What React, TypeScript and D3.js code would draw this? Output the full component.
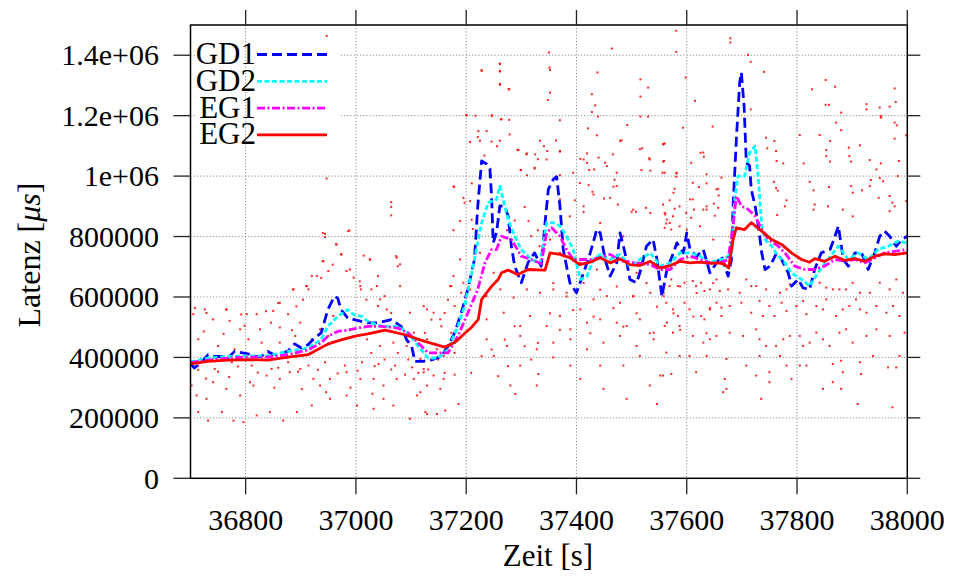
import React from 'react';
import * as d3 from 'd3';

// latency in thousands of microseconds, time in seconds
const xTicks = [36800, 37000, 37200, 37400, 37600, 37800, 38000];
const yTicks = [0, 200, 400, 600, 800, 1000, 1200, 1400];
const yTickLabels = ['0', '200000', '400000', '600000', '800000', '1e+06', '1.2e+06', '1.4e+06'];

const seriesNames = ['GD1', 'GD2', 'EG1', 'EG2'];
const seriesColors = ['#0000ff', '#00ffff', '#ff00ff', '#ff0000'];
const seriesDash = ['10,5', '5,2.5', '8,2.5,2,2.5', 'none'];

const gd1: [number, number][] = [
  [36700, 379], [36707, 365], [36720, 384], [36732, 409], [36744, 403], [36756, 403], [36768, 398], [36780, 420],
  [36792, 416], [36804, 412], [36816, 403], [36828, 403], [36840, 420], [36852, 409], [36864, 414], [36876, 420],
  [36889, 445], [36901, 431], [36913, 442], [36925, 464], [36937, 481], [36949, 558], [36961, 602], [36967, 596],
  [36973, 558], [36985, 531], [36997, 525], [37010, 519], [37022, 514], [37040, 514], [37064, 525], [37082, 503],
  [37092, 459], [37101, 437], [37107, 387], [37122, 387], [37137, 392], [37155, 403], [37167, 437], [37179, 481],
  [37191, 547], [37203, 625], [37215, 724], [37221, 901], [37228, 1050], [37237, 1040], [37243, 1025], [37246, 934],
  [37249, 779], [37255, 812], [37261, 901], [37270, 900], [37276, 868], [37282, 768], [37288, 702], [37300, 647],
  [37312, 713], [37324, 746], [37336, 702], [37343, 846], [37349, 956], [37358, 989], [37364, 998], [37370, 901],
  [37376, 757], [37388, 647], [37400, 614], [37413, 680], [37425, 746], [37437, 824], [37443, 812], [37452, 724],
  [37461, 669], [37473, 713], [37479, 812], [37488, 746], [37497, 658], [37509, 647], [37515, 680], [37527, 768],
  [37539, 790], [37546, 724], [37555, 602], [37564, 691], [37576, 746], [37582, 779], [37594, 746], [37600, 812],
  [37606, 757], [37618, 735], [37630, 757], [37642, 680], [37654, 713], [37663, 735], [37675, 669], [37681, 724],
  [37684, 901], [37690, 1122], [37696, 1310], [37699, 1343], [37704, 1232], [37708, 1045], [37714, 1034], [37717, 956],
  [37724, 901], [37730, 835], [37736, 746], [37742, 691], [37751, 702], [37763, 746], [37772, 724], [37784, 680],
  [37790, 636], [37802, 658], [37811, 630], [37823, 625], [37832, 691], [37844, 746], [37860, 757], [37869, 801],
  [37875, 835], [37884, 724], [37893, 702], [37905, 746], [37917, 746], [37929, 691], [37941, 746], [37950, 801],
  [37959, 818], [37968, 801], [37980, 768], [37990, 790], [38000, 801]
];

const gd2: [number, number][] = [
  [36700, 385], [36732, 398], [36768, 403], [36804, 405], [36840, 405], [36877, 420], [36913, 431], [36937, 459],
  [36949, 503], [36967, 536], [36985, 558], [36997, 541], [37010, 536], [37022, 519], [37046, 503], [37076, 503],
  [37095, 481], [37113, 437], [37131, 398], [37149, 398], [37167, 426], [37185, 503], [37197, 569], [37215, 724],
  [37228, 846], [37240, 912], [37255, 923], [37261, 967], [37267, 923], [37276, 857], [37288, 801], [37300, 757],
  [37318, 724], [37334, 713], [37346, 846], [37358, 846], [37370, 835], [37382, 801], [37394, 757], [37407, 658],
  [37419, 669], [37431, 724], [37443, 741], [37461, 724], [37479, 741], [37497, 702], [37515, 724], [37534, 746],
  [37552, 702], [37570, 713], [37588, 746], [37606, 746], [37624, 735], [37642, 713], [37660, 724], [37669, 724],
  [37681, 746], [37687, 923], [37693, 1000], [37705, 1000], [37714, 1078], [37724, 1100], [37730, 989], [37736, 835],
  [37742, 790], [37754, 768], [37766, 735], [37778, 713], [37790, 680], [37808, 658], [37823, 636], [37838, 680],
  [37856, 724], [37875, 768], [37893, 724], [37911, 746], [37929, 724], [37947, 757], [37965, 768], [37983, 784],
  [38000, 779]
];

const eg1: [number, number][] = [
  [36700, 383], [36732, 391], [36768, 398], [36804, 401], [36840, 401], [36877, 409], [36913, 425], [36937, 448],
  [36949, 470], [36967, 486], [36985, 490], [37003, 497], [37022, 503], [37046, 503], [37076, 497], [37095, 481],
  [37113, 448], [37131, 415], [37149, 415], [37167, 415], [37185, 470], [37203, 547], [37221, 625], [37234, 713],
  [37246, 757], [37255, 757], [37264, 801], [37282, 790], [37300, 735], [37318, 724], [37336, 710], [37346, 812],
  [37355, 829], [37370, 801], [37382, 757], [37394, 724], [37425, 724], [37443, 730], [37461, 741], [37480, 720],
  [37500, 715], [37534, 707], [37552, 691], [37570, 691], [37588, 724], [37606, 735], [37624, 724], [37642, 713],
  [37660, 713], [37675, 724], [37684, 835], [37690, 934], [37699, 901], [37711, 890], [37724, 868], [37736, 824],
  [37748, 790], [37766, 768], [37778, 746], [37796, 702], [37814, 691], [37832, 691], [37850, 702], [37869, 724],
  [37887, 718], [37905, 724], [37923, 713], [37941, 729], [37959, 746], [37977, 751], [38000, 757]
];

const eg2: [number, number][] = [
  [36700, 379], [36732, 387], [36768, 391], [36804, 393], [36840, 391], [36877, 401], [36913, 409], [36949, 444],
  [36967, 455], [36985, 464], [37003, 472], [37022, 478], [37053, 490], [37089, 475], [37125, 453], [37161, 434],
  [37180, 450], [37198, 481], [37210, 500], [37222, 526], [37228, 592], [37237, 614], [37246, 635], [37258, 658],
  [37264, 680], [37276, 689], [37294, 674], [37312, 691], [37343, 689], [37352, 746], [37370, 741], [37388, 730],
  [37406, 707], [37425, 715], [37443, 730], [37461, 713], [37479, 726], [37497, 707], [37515, 704], [37534, 718],
  [37552, 696], [37570, 704], [37588, 718], [37606, 713], [37624, 715], [37642, 711], [37660, 713], [37669, 707],
  [37676, 696], [37684, 790], [37690, 829], [37705, 823], [37717, 846], [37736, 818], [37754, 790], [37772, 774],
  [37790, 746], [37808, 724], [37823, 715], [37832, 727], [37850, 718], [37869, 735], [37887, 721], [37905, 727],
  [37923, 718], [37941, 735], [37959, 743], [37977, 740], [38000, 746]
];

// raw single measurements (red dots)
const samples: [number, number][] = [
  [36965, 774], [36974, 741], [36941, 719], [36950, 686], [37014, 737], [37026, 724], [36911, 636], [36914, 625],
  [36920, 669], [36929, 669], [36887, 625], [36862, 581], [36877, 543], [36850, 554], [36820, 543], [36802, 543],
  [36765, 559], [36726, 559], [36705, 543], [36741, 526], [36771, 521], [36790, 493], [36826, 493], [36862, 499],
  [36899, 515], [36935, 493], [36959, 537], [36983, 686], [36996, 664], [37008, 636], [37038, 636], [37044, 592],
  [37074, 730], [37080, 708], [37056, 559], [37080, 636], [37098, 548], [37129, 559], [37105, 482], [37123, 351],
  [37117, 285], [37098, 197], [37129, 213], [37050, 263], [37068, 241], [37032, 230], [37002, 241], [36983, 274],
  [36953, 263], [36935, 307], [36920, 241], [36893, 219], [36868, 191], [36844, 219], [36820, 208], [36796, 186],
  [36778, 191], [36757, 219], [36732, 191], [36714, 219], [36702, 307], [36711, 274], [36729, 263], [36741, 318],
  [36765, 296], [36790, 274], [36814, 307], [36838, 340], [36862, 329], [36880, 351], [36899, 362], [36923, 329],
  [36953, 329], [36983, 351], [37008, 329], [37032, 329], [37050, 307], [37074, 329], [37105, 329], [37111, 274],
  [36714, 460], [36750, 438], [36780, 427], [36805, 460], [36829, 449], [36862, 449], [36890, 471], [36920, 460],
  [36950, 471], [36974, 460], [36996, 471], [37020, 460], [37044, 438], [37068, 449], [37092, 438], [37117, 395],
  [36714, 373], [36744, 362], [36775, 384], [36811, 373], [36847, 362], [36877, 384], [36914, 373], [36944, 384],
  [36980, 373], [37011, 384], [37041, 378], [37071, 373], [37102, 367],
  [36964, 774], [36973, 741], [36940, 718], [36958, 707], [36989, 691], [36937, 663], [36910, 636], [36886, 625],
  [37007, 652], [37009, 625], [36859, 580], [36892, 569], [36904, 591], [36765, 558], [36708, 564], [36729, 547],
  [36792, 542], [36837, 553], [36714, 359], [36750, 353], [36786, 370], [36822, 350], [36859, 366], [36895, 353],
  [36931, 359], [36967, 347], [37003, 356], [36724, 486], [36760, 478], [36798, 505], [36846, 515], [36884, 490],
  [36728, 330], [36770, 335], [36808, 318], [36852, 300], [36902, 295], [36946, 285], [36990, 300], [37030, 280],
  [36947, 1464], [36947, 992], [37064, 914], [37064, 898], [37064, 870], [36988, 820], [36944, 809], [36944, 798],
  [36940, 812], [36986, 818],
  [37025, 724], [37040, 669], [37073, 735], [37076, 702], [37028, 625], [37052, 603], [37019, 591], [37040, 570],
  [37064, 547], [37028, 503], [37173, 636], [37167, 591], [37191, 614], [37179, 570], [37161, 547], [37155, 503],
  [37173, 481], [37137, 525], [37125, 481], [37179, 415], [37149, 393], [37131, 360], [37161, 349], [37095, 393],
  [37076, 415], [37052, 393], [37028, 415], [37034, 371], [37064, 360], [37089, 343], [37113, 349], [37179, 343],
  [37209, 349], [37228, 404], [37246, 426], [37270, 459], [37288, 503], [37306, 437], [37318, 393], [37330, 448],
  [37276, 371], [37258, 338], [37261, 1371], [37228, 1349], [37261, 1346], [37261, 1305], [37277, 1288], [37264, 1188],
  [37246, 1201], [37200, 1201], [37237, 1149], [37225, 1117], [37261, 1117], [37293, 1087], [37309, 1072], [37178, 965],
  [37197, 912], [37330, 1056], [37324, 1028], [37299, 1020],
  [37123, 570], [37141, 548], [37153, 526], [37129, 460], [37147, 427], [37159, 405], [37123, 362], [37141, 340],
  [37159, 329], [37129, 307], [37153, 296], [37126, 219], [37147, 213], [37162, 224], [37186, 246], [37177, 669],
  [37195, 647], [37207, 625], [37189, 724], [37171, 636], [37237, 603], [37262, 625], [37286, 598], [37310, 625],
  [37334, 614], [37358, 625], [37382, 614], [37407, 559], [37431, 592], [37455, 603], [37479, 581], [37503, 603],
  [37534, 614], [37558, 603], [37237, 526], [37268, 548], [37298, 504], [37316, 537], [37346, 504], [37370, 537],
  [37389, 493], [37419, 515], [37443, 526], [37473, 515], [37491, 504], [37515, 526], [37540, 482], [37564, 515],
  [37237, 460], [37274, 438], [37298, 471], [37328, 427], [37358, 449], [37389, 460], [37419, 427], [37449, 449],
  [37479, 471], [37509, 438], [37540, 460], [37250, 405], [37298, 373], [37331, 345], [37358, 400], [37389, 373],
  [37407, 329], [37443, 373], [37485, 373], [37515, 405], [37552, 340], [37280, 307], [37289, 279], [37328, 307],
  [37449, 296], [37491, 263], [37533, 307], [37546, 246], [37225, 746], [37250, 680], [37286, 724], [37370, 746],
  [37407, 713], [37437, 691], [37485, 724], [37509, 680],
  [37334, 1117], [37370, 1083], [37479, 1117], [37558, 1106], [37630, 1078], [37582, 1011], [37394, 1011], [37413, 1055],
  [37440, 1061], [37455, 1033], [37515, 1089], [37533, 1055], [37346, 1055], [37473, 967], [37431, 939], [37370, 923],
  [37413, 900], [37576, 945], [37606, 923], [37636, 900], [37654, 956], [37503, 889], [37534, 878], [37564, 856],
  [37600, 823], [37624, 834], [37648, 790], [37485, 801], [37443, 845], [37388, 867], [37352, 790], [37358, 646],
  [37382, 602], [37413, 646], [37443, 624], [37473, 635], [37503, 602], [37527, 646], [37558, 613], [37588, 635],
  [37618, 613], [37648, 646], [37352, 546], [37394, 557], [37431, 535], [37467, 563], [37509, 546], [37546, 568],
  [37576, 546], [37612, 535], [37642, 563], [37370, 491], [37425, 480], [37485, 502], [37533, 480], [37588, 491],
  [37636, 480],
  [37350, 1409], [37464, 1422], [37228, 1350], [37261, 1372], [37261, 1348], [37261, 1302], [37278, 1287], [37351, 1359],
  [37352, 1351], [37352, 1276], [37348, 1252], [37438, 1343], [37516, 1320], [37530, 1293], [37516, 1263], [37428, 1271],
  [37434, 1234], [37428, 1212], [37201, 1202], [37217, 1200], [37247, 1200], [37263, 1188], [37278, 1186], [37370, 1185],
  [37439, 1197], [37516, 1197], [37530, 1197], [37492, 1169], [37421, 1158], [37222, 1149], [37221, 1129], [37279, 1138],
  [37437, 1135], [37363, 1118], [37207, 1113], [37246, 1114], [37256, 1099], [37482, 1118], [37519, 1092], [37341, 1099],
  [37347, 1083], [37370, 1081], [37295, 1086], [37310, 1075], [37325, 1072], [37233, 1068], [37419, 1075], [37466, 1072],
  [37532, 1059], [37559, 1050], [37560, 1108], [37419, 1044], [37432, 1022], [37452, 1044], [37299, 1020], [37310, 1003],
  [37324, 1025], [37245, 1002], [37370, 1003], [37423, 1020], [37407, 1057], [37518, 1020], [37534, 1018], [37560, 1011],
  [37473, 1011], [37177, 965], [37195, 928], [37210, 976], [37406, 977], [37422, 970], [37429, 948], [37397, 920],
  [37413, 881], [37450, 926], [37461, 928], [37469, 988], [37467, 965], [37475, 906], [37500, 882], [37508, 882],
  [37526, 895], [37560, 878], [37560, 829], [37563, 843], [37189, 851], [37177, 821], [37207, 917], [37210, 856],
  [37212, 825], [37306, 898], [37313, 851], [37330, 821], [37288, 853], [37274, 821], [37318, 801], [37333, 768],
  [37581, 1481], [37679, 1456], [37679, 1442], [37581, 1411], [37711, 1401], [37716, 1378], [37598, 1326], [37740, 1345],
  [37615, 1249], [37716, 1221], [37852, 1318], [37869, 1296], [37827, 1287], [37977, 1290], [37852, 1236], [37858, 1236],
  [37880, 1210], [37926, 1238], [37926, 1221], [37950, 1227], [37968, 1230], [37979, 1245], [37952, 1199], [37952, 1193],
  [37977, 1177], [37981, 1168], [37647, 1164], [37593, 1160], [37871, 1177], [37880, 1152], [37841, 1136], [37805, 1136],
  [37998, 1135], [37744, 1127], [37759, 1116], [37860, 1116], [37914, 1102], [37894, 1094], [37977, 1124], [37557, 1105],
  [37625, 1077], [37631, 1064], [37746, 1092], [37762, 1083], [37608, 1044], [37557, 1048], [37763, 1050], [37775, 1042],
  [37812, 1042], [37853, 1086], [37853, 1066], [37860, 1048], [37898, 1048], [37895, 1066], [37932, 1053], [37952, 1042],
  [37985, 1050], [37944, 1022], [37581, 1009], [37581, 998], [37636, 1006], [37663, 995], [37556, 1011], [37611, 978],
  [37636, 976], [37578, 958], [37622, 964], [37657, 958], [37758, 981], [37762, 961], [37765, 952], [37823, 981],
  [37830, 953], [37858, 964], [37898, 967], [37932, 967], [37934, 987], [37950, 994], [37956, 983], [37983, 1000],
  [37901, 945], [37918, 953], [37948, 928], [37968, 934], [37973, 912], [37998, 917], [37781, 920], [37778, 900],
  [37764, 871], [37611, 923], [37658, 936], [37649, 909], [37636, 889], [37613, 889], [37599, 878], [37587, 900],
  [37569, 920], [37578, 892], [37575, 867], [37569, 845], [37557, 906], [37561, 873], [37572, 823], [37587, 834],
  [37608, 862], [37630, 889], [37651, 869], [37657, 895], [37856, 900], [37830, 889], [37832, 906], [37883, 889],
  [37901, 867], [37968, 884], [37977, 900],
  [37560, 697], [37572, 658], [37569, 636], [37584, 636], [37596, 647], [37611, 653], [37617, 636], [37626, 647],
  [37632, 620], [37642, 625], [37654, 658], [37660, 620], [37675, 625], [37696, 614], [37708, 658], [37717, 636],
  [37726, 636], [37744, 625], [37769, 614], [37781, 625], [37787, 642], [37805, 647], [37823, 636], [37841, 647],
  [37853, 631], [37865, 625], [37877, 625], [37889, 625], [37901, 647], [37914, 614], [37932, 614], [37950, 647],
  [37968, 625], [37980, 658], [37992, 614], [37563, 581], [37575, 559], [37584, 537], [37596, 581], [37605, 559],
  [37626, 537], [37632, 526], [37642, 559], [37654, 581], [37663, 565], [37663, 537], [37678, 570], [37699, 581],
  [37717, 548], [37732, 587], [37738, 537], [37750, 570], [37759, 537], [37772, 581], [37781, 554], [37799, 570],
  [37811, 587], [37817, 543], [37835, 570], [37847, 559], [37853, 592], [37871, 537], [37883, 559], [37895, 570],
  [37907, 592], [37914, 559], [37926, 548], [37944, 570], [37962, 548], [37974, 570], [37986, 537], [37560, 504],
  [37575, 482], [37587, 504], [37611, 471], [37630, 449], [37642, 460], [37654, 471], [37678, 482], [37702, 471],
  [37726, 493], [37732, 460], [37744, 438], [37762, 438], [37775, 460], [37787, 471], [37805, 471], [37811, 438],
  [37823, 449], [37835, 482], [37847, 460], [37859, 438], [37877, 482], [37889, 493], [37901, 449], [37926, 471],
  [37944, 493], [37968, 471], [37995, 482], [37563, 416], [37587, 405], [37605, 405], [37636, 405], [37672, 395],
  [37708, 373], [37732, 405], [37750, 351], [37769, 405], [37781, 373], [37805, 373], [37817, 373], [37865, 378],
  [37880, 389], [37883, 351], [37914, 384], [37938, 405], [37965, 367], [37986, 405], [37572, 345], [37617, 351],
  [37669, 329], [37666, 285], [37726, 340], [37750, 318], [37790, 329], [37847, 296], [37865, 318], [37880, 296],
  [37916, 345], [37980, 367], [37672, 296], [37735, 263], [37910, 246], [37973, 235], [37557, 340]
];

const W = 954, H = 579;
const left = 190.5, right = 907.3, top = 25, bottom = 478.3;
const font = 'Liberation Serif';

export default function App() {
  const x = d3.scaleLinear().domain([36700, 38000]).range([left, right]);
  const y = d3.scaleLinear().domain([0, 1500]).range([bottom, top]);
  const line = d3.line<[number, number]>().x(d => x(d[0])).y(d => y(d[1]));
  const series = [gd1, gd2, eg1, eg2];
  const gridStyle = { stroke: '#7a7a7a', strokeWidth: 1, strokeDasharray: '1,2.2' };
  const tickLen = 15;

  return (
    <svg width={W} height={H} style={{ position: 'absolute', left: 0, top: 0, background: '#fff' }}>
      <defs>
        <clipPath id="plot"><rect x={left} y={top} width={right - left} height={bottom - top} /></clipPath>
      </defs>
      <rect width={W} height={H} fill="#fff" />

      {/* horizontal grid, then key background, then vertical grid */}
      {yTicks.filter(t => t > 0).map(t => (
        <line key={'gy' + t} x1={left} x2={right} y1={y(t)} y2={y(t)} {...gridStyle} />
      ))}
      <rect x={197} y={32} width={142} height={116} fill="#fff" />
      {xTicks.filter(t => t < 38000).map(t => (
        <line key={'gx' + t} x1={x(t)} x2={x(t)} y1={top} y2={bottom} {...gridStyle} />
      ))}

      <g clipPath="url(#plot)">
        {samples.map((d, i) => (
          <rect key={'s' + i} x={x(d[0]) - 1} y={y(d[1]) - 1} width={2} height={2} fill="#ff0000" opacity={0.85} />
        ))}
        {series.map((s, i) => (
          <path key={'l' + i} d={line(s) || ''} fill="none" stroke={seriesColors[i]}
            strokeWidth={2.8} strokeDasharray={seriesDash[i]} strokeLinejoin="round" />
        ))}
      </g>

      {/* frame and ticks */}
      <rect x={left} y={top} width={right - left} height={bottom - top} fill="none" stroke="#000" strokeWidth={1.5} />
      {yTicks.map((t, i) => (
        <g key={'ty' + t}>
          <line x1={left - tickLen - 2} x2={left} y1={y(t)} y2={y(t)} stroke="#222" strokeWidth={1.3} />
          <line x1={right} x2={right + tickLen - 2} y1={y(t)} y2={y(t)} stroke="#222" strokeWidth={1.3} />
          <text x={159} y={y(t)} dy="0.34em" textAnchor="end" fontSize={30} fontFamily={font} fill="#000">{yTickLabels[i]}</text>
        </g>
      ))}
      {xTicks.map(t => (
        <g key={'tx' + t}>
          <line x1={x(t)} x2={x(t)} y1={bottom} y2={bottom + tickLen + 1} stroke="#222" strokeWidth={1.3} />
          <line x1={x(t)} x2={x(t)} y1={top - tickLen} y2={top} stroke="#222" strokeWidth={1.3} />
          <text x={x(t)} y={530} textAnchor="middle" fontSize={30} fontFamily={font} fill="#000">{t}</text>
        </g>
      ))}

      {/* axis titles */}
      <text x={548} y={566} textAnchor="middle" fontSize={31} fontFamily={font} fill="#000">Zeit [s]</text>
      <text transform="translate(40,255) rotate(-90)" textAnchor="middle" fontSize={32} fontFamily={font} fill="#000">
        Latenz [<tspan fontStyle="italic">μs</tspan>]
      </text>

      {/* key */}
      {seriesNames.map((n, i) => (
        <g key={'k' + n}>
          <text x={256} y={64 + i * 26.8} textAnchor="end" fontSize={31} fontFamily={font} fill="#000">{n}</text>
          <line x1={257} x2={327} y1={54.5 + i * 26.8} y2={54.5 + i * 26.8} stroke={seriesColors[i]}
            strokeWidth={2.8} strokeDasharray={seriesDash[i]} />
        </g>
      ))}
    </svg>
  );
}
